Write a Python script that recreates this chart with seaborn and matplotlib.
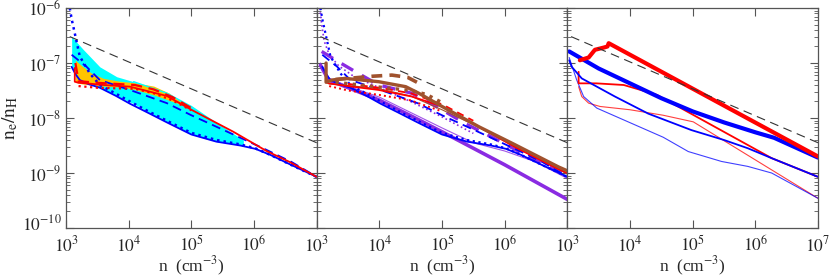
import numpy as np
import seaborn as sns
import matplotlib
matplotlib.use("Agg")
import matplotlib.pyplot as plt
import matplotlib.transforms as mtrans

# all values below are log10(n) and log10(ne/nH)
dash_lgn = [3.06, 7.0]
dash_lgy = [-6.52, -8.45]

# panel 1
p1_cyan_lgn = [3.09, 3.28, 3.54, 3.81, 4.08, 4.61, 5.0, 5.40, 5.83]
p1_cyan_hi = [-6.52, -6.76, -7.07, -7.25, -7.34, -7.55, -7.79, -8.10, -8.42]
p1_cyan_lo = [-7.07, -7.33, -7.45, -7.6, -7.74, -8.08, -8.3, -8.43, -8.5]
p1_gold_lgn = [3.15, 3.25, 3.4, 3.6, 3.85, 4.1, 4.4, 4.65, 4.85]
p1_gold_hi = [-6.95, -7.05, -7.18, -7.28, -7.33, -7.36, -7.42, -7.55, -7.72]
p1_gold_lo = [-7.35, -7.38, -7.40, -7.42, -7.44, -7.48, -7.58, -7.68, -7.76]

blue_sol_lgn = [3.09, 3.15, 3.22, 3.35, 3.54, 3.8, 4.02, 4.3, 4.61, 5.0, 5.4, 5.78, 6.02, 6.26, 6.57, 7.0]
blue_sol_lgy = [-7.07, -7.2, -7.31, -7.38, -7.45, -7.6, -7.74, -7.9, -8.08, -8.3, -8.43, -8.5, -8.56, -8.67, -8.84, -9.07]
blue_dot_lgn = [3.06, 3.09, 3.14, 3.22, 3.38, 3.54, 3.8, 4.02, 4.3, 4.61, 5.0, 5.4, 5.78, 6.02, 6.26, 6.57, 7.0]
blue_dot_lgy = [-6.0, -6.2, -6.46, -6.88, -7.19, -7.4, -7.56, -7.7, -7.87, -8.05, -8.27, -8.4, -8.48, -8.55, -8.67, -8.84, -9.07]
blue_dsh_lgn = [3.09, 3.33, 3.54, 4.02, 4.61, 5.0, 5.67, 6.2, 6.6, 7.0]
blue_dsh_lgy = [-6.85, -7.07, -7.31, -7.49, -7.73, -7.95, -8.3, -8.58, -8.8, -9.07]

p1_red_sol_lgn = [3.14, 3.14, 3.2, 3.33, 3.6, 4.02, 4.61, 5.0, 5.67, 6.2, 6.57, 7.0]
p1_red_sol_lgy = [-7.09, -7.34, -7.36, -7.37, -7.40, -7.43, -7.6, -7.85, -8.25, -8.6, -8.8, -9.07]
p1_red_dsh_lgn = [3.15, 3.2, 3.5, 3.8, 4.1, 4.4, 4.7, 5.0]
p1_red_dsh_lgy = [-7.0, -7.33, -7.36, -7.38, -7.4, -7.48, -7.62, -7.82]
p1_red_dot_lgn = [3.2, 3.5, 3.8, 4.1, 4.4, 4.7, 5.0]
p1_red_dot_lgy = [-7.42, -7.45, -7.46, -7.47, -7.55, -7.68, -7.86]

# panel 2
p2_pur_thick_lgn = [3.06, 3.19, 3.46, 3.99, 4.52, 5.0, 6.0, 7.0]
p2_pur_thick_lgy = [-7.04, -7.31, -7.43, -7.67, -7.97, -8.25, -8.85, -9.48]
p2_pur_dsh_lgn = [3.08, 3.35, 3.62, 3.99, 4.52, 5.0, 5.37, 5.8, 6.3, 7.0]
p2_pur_dsh_lgy = [-6.79, -6.98, -7.16, -7.4, -7.55, -7.85, -8.10, -8.35, -8.65, -9.05]
p2_pur_thin_lgn = [3.06, 3.2, 3.5, 4.0, 4.5, 5.0, 5.5, 6.0, 6.5, 7.0]
p2_pur_thin_lgy = [-7.0, -7.28, -7.42, -7.62, -7.9, -8.18, -8.45, -8.6, -8.8, -9.1]
p2_pur_dot_lgn = [3.05, 3.08, 3.12, 3.2, 3.35, 3.6, 4.0, 4.5, 5.0, 5.5]
p2_pur_dot_lgy = [-6.0, -6.3, -6.6, -6.85, -7.05, -7.25, -7.45, -7.7, -7.98, -8.28]
p2_red_sol_lgn = [3.15, 3.15, 3.19, 3.5, 3.99, 4.52, 5.0, 5.59, 6.2, 6.86, 7.0]
p2_red_sol_lgy = [-7.0, -7.35, -7.37, -7.42, -7.49, -7.61, -7.79, -8.16, -8.55, -8.93, -9.0]
p2_red_dot_lgn = [3.2, 3.5, 4.0, 4.5, 5.0]
p2_red_dot_lgy = [-7.42, -7.5, -7.58, -7.68, -7.88]
p2_red_dsh_lgn = [3.5, 4.0, 4.5, 5.0, 5.5]
p2_red_dsh_lgy = [-7.38, -7.45, -7.55, -7.75, -8.05]
p2_brn_sol_lgn = [3.15, 3.15, 3.24, 3.46, 3.99, 4.42, 4.63, 5.0, 5.59, 6.12, 6.86, 7.0]
p2_brn_sol_lgy = [-7.0, -7.35, -7.31, -7.28, -7.34, -7.43, -7.55, -7.79, -8.16, -8.46, -8.89, -8.96]
p2_brn_dsh_lgn = [3.3, 3.6, 3.9, 4.2, 4.45, 4.6]
p2_brn_dsh_lgy = [-7.3, -7.27, -7.24, -7.22, -7.26, -7.35]
p2_brn_dot_lgn = [3.3, 3.7, 4.1, 4.5, 4.75, 5.0]
p2_brn_dot_lgy = [-7.35, -7.4, -7.45, -7.5, -7.57, -7.72]
p2_brn_thin_lgn = [3.2, 3.6, 4.0, 4.5, 5.0, 5.5, 6.0, 6.5, 7.0]
p2_brn_thin_lgy = [-7.38, -7.42, -7.47, -7.6, -7.85, -8.12, -8.42, -8.72, -9.02]

# panel 3
p3_red_thick_lgn = [3.2, 3.34, 3.44, 3.58, 3.64, 3.66, 7.0]
p3_red_thick_lgy = [-6.95, -6.9, -6.76, -6.72, -6.7, -6.64, -8.70]
p3_blue_thick_lgn = [3.03, 3.5, 4.0, 4.5, 5.0, 5.5, 6.0, 6.3, 7.0]
p3_blue_thick_lgy = [-6.79, -7.1, -7.37, -7.64, -7.88, -8.08, -8.26, -8.36, -8.72]
p3_red_mid_lgn = [3.18, 3.18, 3.3, 3.46, 3.9, 4.26, 4.43, 6.26, 7.0]
p3_red_mid_lgy = [-7.16, -7.37, -7.37, -7.37, -7.4, -7.52, -7.58, -8.73, -9.07]
p3_blue_mid_lgn = [3.03, 3.07, 3.23, 3.76, 4.29, 4.98, 5.5, 5.88, 6.26, 7.0]
p3_blue_mid_lgy = [-6.95, -7.07, -7.28, -7.61, -7.92, -8.22, -8.4, -8.55, -8.73, -9.07]
p3_red_thin_lgn = [3.18, 3.23, 3.34, 3.52, 4.0, 4.53, 5.01, 7.0]
p3_red_thin_lgy = [-7.43, -7.61, -7.73, -7.79, -7.85, -7.95, -8.07, -9.46]
p3_blue_thin_lgn = [3.03, 3.07, 3.15, 3.26, 3.47, 4.03, 4.53, 4.93, 5.46, 5.88, 6.26, 7.0]
p3_blue_thin_lgy = [-6.9, -7.04, -7.31, -7.61, -7.82, -8.1, -8.35, -8.61, -8.79, -8.88, -9.0, -9.46]

BLUE, RED, CYAN, GOLD = "#0000ff", "#ff0000", "#00ffff", "#ffc400"
BROWN, PURPLE = "#a0522d", "#8a2be2"
DOT = (0, (1, 1.6))


def line(ax, lgn, lgy, color, lw=1.2, ls="-", alpha=1.0):
    sns.lineplot(x=10 ** np.array(lgn), y=10 ** np.array(lgy), ax=ax, color=color,
                 linewidth=lw, linestyle=ls, alpha=alpha, sort=False, estimator=None)


sns.set_style("ticks")
plt.rcParams["font.family"] = ["Liberation Serif", "DejaVu Serif"]
plt.rcParams["mathtext.fontset"] = "stix"

fig, axes = plt.subplots(1, 3, figsize=(8.3, 2.77), dpi=100, sharey=True)
fig.subplots_adjust(left=66 / 830, right=818 / 830, bottom=1 - 228 / 277, top=1 - 8 / 277, wspace=0)

# panel 1
ax = axes[0]
ax.fill_between(10 ** np.array(p1_cyan_lgn), 10 ** np.array(p1_cyan_lo), 10 ** np.array(p1_cyan_hi),
                color=CYAN, lw=0)
ax.fill_between(10 ** np.array(p1_gold_lgn), 10 ** np.array(p1_gold_lo), 10 ** np.array(p1_gold_hi),
                color=GOLD, lw=0)
line(ax, p1_cyan_lgn[4:], p1_cyan_hi[4:], CYAN, 1.0)
line(ax, blue_sol_lgn, blue_sol_lgy, BLUE, 1.3)
line(ax, blue_dot_lgn, blue_dot_lgy, BLUE, 1.8, DOT)
line(ax, blue_dsh_lgn, blue_dsh_lgy, BLUE, 1.3, (0, (5, 3)))
line(ax, p1_red_sol_lgn, p1_red_sol_lgy, RED, 1.3)
line(ax, p1_red_dsh_lgn, p1_red_dsh_lgy, RED, 1.6, (0, (5, 3)))
line(ax, p1_red_dot_lgn, p1_red_dot_lgy, RED, 1.6, DOT)

# panel 2
ax = axes[1]
line(ax, p2_pur_thick_lgn, p2_pur_thick_lgy, PURPLE, 2.6)
line(ax, p2_pur_thin_lgn, p2_pur_thin_lgy, PURPLE, 0.8, alpha=0.8)
line(ax, p2_pur_dsh_lgn, p2_pur_dsh_lgy, PURPLE, 2.4, (0, (4, 3)))
line(ax, p2_pur_dot_lgn, p2_pur_dot_lgy, PURPLE, 1.2, DOT)
line(ax, blue_sol_lgn, blue_sol_lgy, BLUE, 1.3)
line(ax, blue_dot_lgn, blue_dot_lgy, BLUE, 1.6, DOT)
line(ax, blue_dsh_lgn, blue_dsh_lgy, BLUE, 1.3, (0, (5, 3)))
line(ax, p2_brn_thin_lgn, p2_brn_thin_lgy, BROWN, 0.8)
line(ax, p2_red_sol_lgn, p2_red_sol_lgy, RED, 1.3)
line(ax, p2_red_dot_lgn, p2_red_dot_lgy, RED, 1.4, DOT)
line(ax, p2_red_dsh_lgn, p2_red_dsh_lgy, RED, 1.3, (0, (4, 3)))
line(ax, p2_brn_sol_lgn, p2_brn_sol_lgy, BROWN, 2.4)
line(ax, p2_brn_dsh_lgn, p2_brn_dsh_lgy, BROWN, 2.6, (0, (3, 2)))
line(ax, p2_brn_dot_lgn, p2_brn_dot_lgy, BROWN, 2.4, DOT)

# panel 3
ax = axes[2]
line(ax, p3_red_thin_lgn, p3_red_thin_lgy, RED, 0.8, alpha=0.75)
line(ax, p3_blue_thin_lgn, p3_blue_thin_lgy, BLUE, 0.8, alpha=0.75)
line(ax, p3_red_mid_lgn, p3_red_mid_lgy, RED, 1.3)
line(ax, p3_blue_mid_lgn, p3_blue_mid_lgy, BLUE, 1.3)
line(ax, p3_blue_thick_lgn, p3_blue_thick_lgy, BLUE, 3.0)
line(ax, p3_red_thick_lgn, p3_red_thick_lgy, RED, 3.0)

xt = [1e3, 1e4, 1e5, 1e6, 1e7]
xl = ["$10^{3}$", "$10^{4}$", "$10^{5}$", "$10^{6}$", "$10^{7}$"]
yt = [1e-10, 1e-9, 1e-8, 1e-7, 1e-6]
yl = ["$10^{-10}$", "$10^{-9}$", "$10^{-8}$", "$10^{-7}$", "$10^{-6}$"]
for i, ax in enumerate(axes):
    line(ax, dash_lgn, dash_lgy, "#333333", 0.8, (0, (8, 5)))
    ax.set_xscale("log")
    ax.set_yscale("log")
    ax.set_xlim(1e3, 1e7)
    ax.set_ylim(1e-10, 1e-6)
    ax.set_xticks(xt, labels=xl if i == 2 else xl[:4] + [""])
    ax.set_yticks(yt, labels=yl)
    ax.tick_params(which="both", direction="in", top=True, right=True, color="#555555",
                   labelsize=12.5)
    ax.tick_params(axis="x", pad=5)
    ax.tick_params(axis="y", pad=3)
    ax.tick_params(which="major", length=6, width=0.8)
    ax.tick_params(which="minor", length=3, width=0.6)
    for s in ax.spines.values():
        s.set_color("#555555")
        s.set_linewidth(0.9)
    ax.set_xlabel("n  (cm$^{-3}$)", fontsize=12.5, labelpad=0)
    if i > 0:
        ax.tick_params(labelleft=False)
axes[0].set_ylabel(r"$\mathrm{n_e/n_H}$", fontsize=14)
axes[0].yaxis.set_label_coords(-0.185, 0.5)

# lift the bottom y label a little so it clears the first x label
lab = axes[0].get_yticklabels()[0]
lab.set_transform(lab.get_transform() + mtrans.ScaledTranslation(0, 4 / 72, fig.dpi_scale_trans))

plt.savefig("out.png", dpi=100)
plt.close()
